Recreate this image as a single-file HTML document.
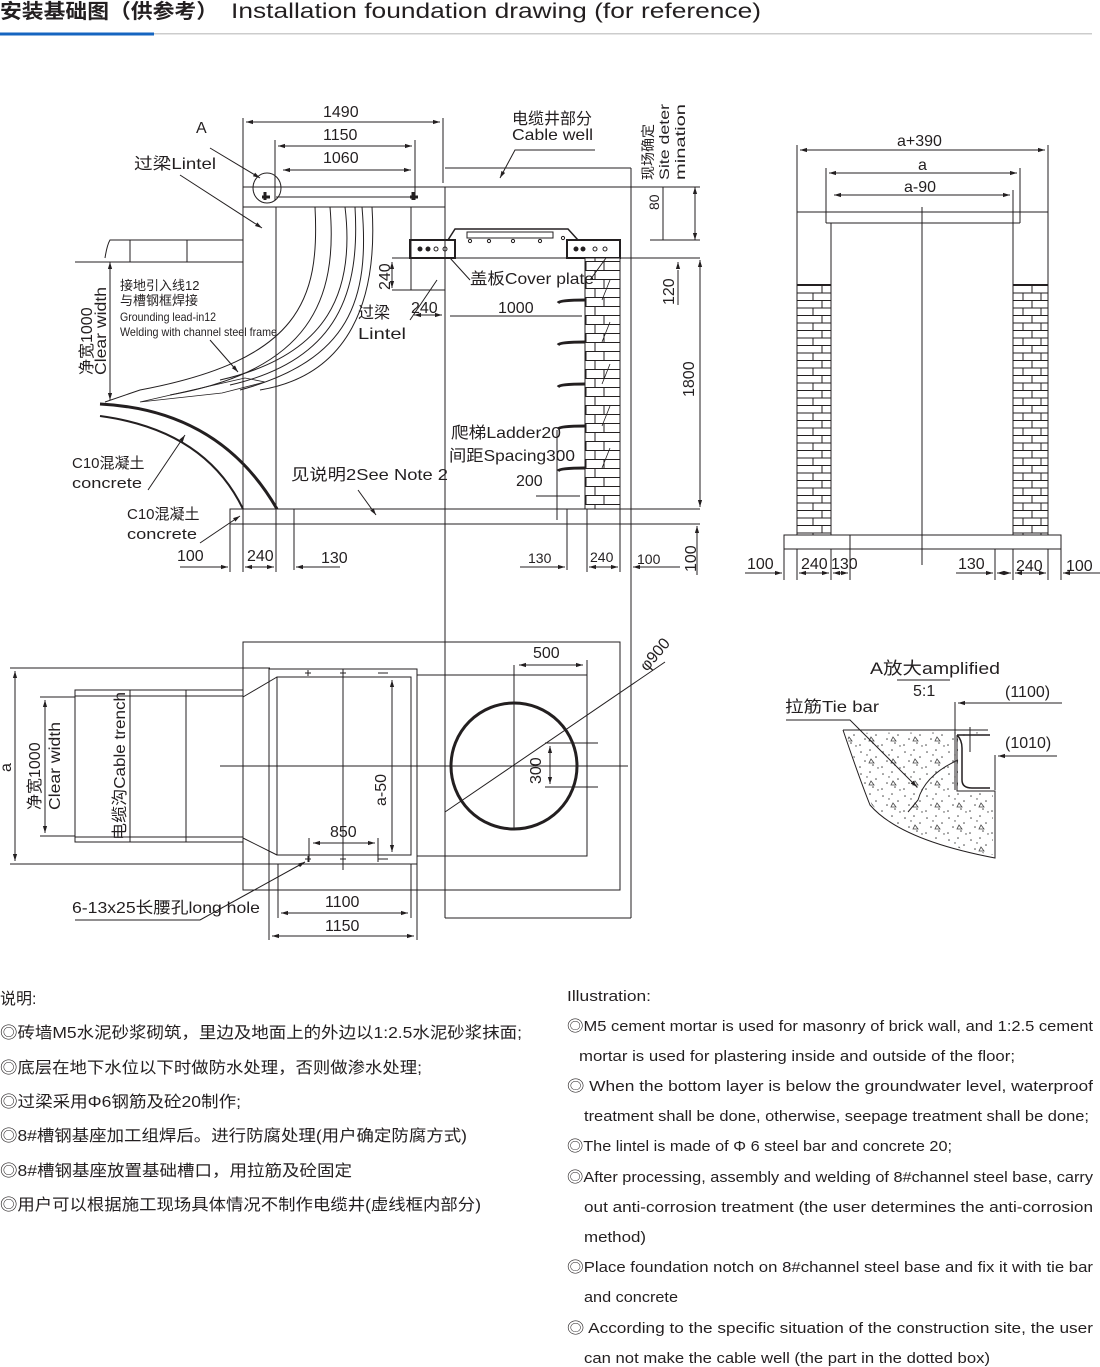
<!DOCTYPE html>
<html><head><meta charset="utf-8"><style>
html,body{margin:0;padding:0;background:#fff;}
svg{display:block;}
text{font-family:"Liberation Sans","Noto Sans CJK SC",sans-serif;fill:#231f20;}
</style></head><body>
<svg width="1100" height="1367" viewBox="0 0 1100 1367" xmlns="http://www.w3.org/2000/svg">
<defs>
<marker id="a" viewBox="0 0 10 10" refX="10" refY="5" markerWidth="7" markerHeight="7" orient="auto-start-reverse"><path d="M0,2 L10,5 L0,8z" fill="#231f20"/></marker>
<pattern id="brk" width="34" height="18" patternUnits="userSpaceOnUse">
<rect width="34" height="18" fill="#fff"/>
<path d="M0,0.5H34M0,9.5H34M17,0V9M8,9V18M26,9V18" stroke="#231f20" stroke-width="1" fill="none"/>
</pattern>
<pattern id="brk2" width="35" height="15" patternUnits="userSpaceOnUse">
<rect width="35" height="15" fill="#fff"/>
<path d="M0,0.5H35M0,8H35M17,0V7.5M8,7.5V15M26,7.5V15" stroke="#231f20" stroke-width="1" fill="none"/>
</pattern>
<pattern id="conc" width="22" height="22" patternUnits="userSpaceOnUse">
<rect width="22" height="22" fill="#fff"/>
<g fill="#444"><circle cx="3" cy="4" r=".8"/><circle cx="12" cy="2" r=".8"/><circle cx="18" cy="9" r=".8"/><circle cx="7" cy="13" r=".8"/><circle cx="15" cy="17" r=".8"/><circle cx="2" cy="19" r=".8"/><circle cx="9" cy="7" r=".7"/><circle cx="20" cy="20" r=".7"/></g>
<path d="M13,11l3,4h-5z" fill="none" stroke="#444" stroke-width=".8"/>
</pattern>
</defs>

<!-- Header -->
<text x="0" y="18" font-size="20" font-weight="bold" fill="#333" textLength="218" lengthAdjust="spacingAndGlyphs">安装基础图（供参考）</text>
<text x="231" y="18" font-size="21" fill="#444" textLength="530" lengthAdjust="spacingAndGlyphs">Installation foundation drawing (for reference)</text>
<rect x="0" y="33" width="1092" height="1.5" fill="#ccc"/>
<rect x="0" y="32.5" width="154" height="3" fill="#1565c0"/>

<g stroke="#231f20" fill="none" stroke-width="1">
<!-- ===== Section view ===== -->
<line x1="243" y1="118" x2="243" y2="509"/>
<line x1="443" y1="118" x2="443" y2="183"/>
<line x1="246" y1="122" x2="440" y2="122" marker-start="url(#a)" marker-end="url(#a)"/>
<line x1="275" y1="140" x2="275" y2="200"/><line x1="415" y1="140" x2="415" y2="200"/>
<line x1="278" y1="146" x2="412" y2="146" marker-start="url(#a)" marker-end="url(#a)"/>
<line x1="283" y1="170" x2="411" y2="170" marker-start="url(#a)" marker-end="url(#a)"/>
<rect x="243" y="187" width="202" height="20"/>
<line x1="276" y1="197" x2="411" y2="197"/>
<line x1="445" y1="187" x2="700" y2="187"/>
<path d="M265,192v8M262,197h8M413,192v8M410,197h8" stroke-width="3"/>
<ellipse cx="267" cy="188" rx="14" ry="15"/>
<line x1="276" y1="207" x2="276" y2="509"/>
<line x1="411" y1="207" x2="411" y2="290"/>
<line x1="445" y1="207" x2="445" y2="918"/>
<line x1="392" y1="290" x2="445" y2="290"/>
<line x1="445" y1="168" x2="631" y2="168"/>
<line x1="631" y1="168" x2="631" y2="918"/>
<path d="M105,258 Q107,245 110,240 H243 M75,262 H243 M130,240 V262 M187,240 V262"/>
<rect x="410" y="240" width="45" height="18" stroke-width="2"/>
<rect x="567" y="240" width="53" height="18" stroke-width="2"/>
<path d="M448,240 L455,229 H568 L578,240" stroke-width="1.5"/>
<rect x="467" y="232" width="86" height="6"/>
<line x1="392" y1="258" x2="700" y2="258"/>
<circle cx="420" cy="249" r="2" fill="#231f20"/><circle cx="428" cy="249" r="2" fill="#231f20"/><circle cx="436" cy="249" r="2"/><circle cx="445" cy="249" r="2"/>
<circle cx="576" cy="249" r="2" fill="#231f20"/><circle cx="583" cy="249" r="2" fill="#231f20"/><circle cx="595" cy="249" r="2"/><circle cx="605" cy="249" r="2"/>
<circle cx="470" cy="241" r="1.6"/><circle cx="489" cy="241" r="1.6"/><circle cx="513" cy="241" r="1.6"/><circle cx="540" cy="241" r="1.6"/><circle cx="563" cy="238" r="1.6"/>
<rect x="585" y="258" width="35" height="251" fill="url(#brk)"/>
<g stroke-width="3"><path d="M558,303 Q560,300 585,300"/><path d="M558,345 Q560,342 585,342"/><path d="M558,387 Q560,384 585,384"/><path d="M558,429 Q560,426 585,426"/><path d="M558,471 Q560,468 585,468"/></g>
<g stroke-width=".8"><path d="M602,300 L610,280 M602,342 L610,322 M602,384 L610,364 M602,426 L610,406 M602,468 L610,448"/></g>
<rect x="230" y="509" width="401" height="15"/>
<line x1="631" y1="509" x2="700" y2="509"/><line x1="631" y1="524" x2="700" y2="524"/>
<line x1="294" y1="509" x2="294" y2="570"/><line x1="567" y1="509" x2="567" y2="570"/>
<path d="M230,524V572M243,509V572M276,509V572M587,509V572M620,509V572M631,524V572"/>
<line x1="180" y1="567" x2="228" y2="567" marker-end="url(#a)"/>
<line x1="245" y1="567" x2="274" y2="567" marker-start="url(#a)" marker-end="url(#a)"/>
<line x1="296" y1="567" x2="340" y2="567" marker-start="url(#a)"/>
<line x1="520" y1="567" x2="565" y2="567" marker-end="url(#a)"/>
<line x1="589" y1="567" x2="618" y2="567" marker-start="url(#a)" marker-end="url(#a)"/>
<line x1="633" y1="567" x2="680" y2="567" marker-start="url(#a)"/>
<line x1="697" y1="526" x2="697" y2="575" marker-start="url(#a)"/>
<line x1="695" y1="187" x2="695" y2="240" marker-start="url(#a)" marker-end="url(#a)"/>
<line x1="663" y1="187" x2="663" y2="240"/>
<line x1="650" y1="240" x2="700" y2="240"/>
<line x1="678" y1="270" x2="678" y2="305"/><line x1="678" y1="262" x2="678" y2="265" marker-start="url(#a)"/>
<line x1="700" y1="260" x2="700" y2="507" marker-start="url(#a)" marker-end="url(#a)"/>
<line x1="392" y1="262" x2="392" y2="288" marker-start="url(#a)" marker-end="url(#a)"/>
<line x1="414" y1="315" x2="442" y2="315" marker-start="url(#a)" marker-end="url(#a)"/>
<line x1="450" y1="316" x2="582" y2="316"/>
<line x1="536" y1="496" x2="580" y2="496"/><line x1="557" y1="430" x2="557" y2="520"/>
<path d="M315,207 C320,300 300,360 140,390 L105,402"/>
<path d="M330,207 C338,300 310,370 170,395"/>
<path d="M345,207 C355,290 330,355 220,380"/>
<path d="M355,207 C360,290 340,360 230,385"/>
<path d="M362,207 C370,300 350,360 240,390"/>
<path d="M372,207 C378,300 350,375 260,390"/>
<path d="M140,402 L245,378 L265,382 L222,393Z" stroke-width=".8"/>
<path d="M100,404 Q220,410 277,509" stroke-width="3"/>
<path d="M100,416 Q205,430 243,509" stroke-width="2"/>
<line x1="110" y1="262" x2="110" y2="400" marker-start="url(#a)" marker-end="url(#a)"/>
<path d="M210,148 L260,178" marker-end="url(#a)"/>
<path d="M180,175 L262,228" marker-end="url(#a)"/>
<path d="M210,340 L238,372" marker-end="url(#a)"/>
<path d="M148,490 L185,435" marker-end="url(#a)"/>
<path d="M200,543 L240,516" marker-end="url(#a)"/>
<path d="M358,490 L376,515" marker-end="url(#a)"/>
<path d="M595,150 H515 L500,178" marker-end="url(#a)"/>
<path d="M410,320 L437,280"/>
<path d="M470,280 L450,258"/><path d="M590,280 L606,258"/>

<!-- ===== Plan view ===== -->
<rect x="243" y="642" width="377" height="248"/>
<rect x="269" y="669" width="148" height="195"/>
<rect x="277" y="677" width="134" height="178"/>
<rect x="75" y="690" width="168" height="152"/>
<line x1="75" y1="696" x2="243" y2="696"/><line x1="75" y1="837" x2="243" y2="837"/>
<line x1="130" y1="690" x2="130" y2="842"/><line x1="186" y1="690" x2="186" y2="842"/>
<path d="M243,697 L277,677 M243,838 L277,855"/>
<line x1="10" y1="668" x2="270" y2="668"/><line x1="10" y1="864" x2="270" y2="864"/>
<line x1="15" y1="671" x2="15" y2="861" marker-start="url(#a)" marker-end="url(#a)"/>
<line x1="40" y1="697" x2="75" y2="697"/><line x1="40" y1="836" x2="75" y2="836"/>
<line x1="45" y1="700" x2="45" y2="833" marker-start="url(#a)" marker-end="url(#a)"/>
<rect x="417" y="675" width="170" height="181"/>
<circle cx="514" cy="766" r="63" stroke-width="3"/>
<line x1="220" y1="766" x2="628" y2="766"/>
<line x1="514" y1="665" x2="514" y2="830"/>
<line x1="343" y1="669" x2="343" y2="870"/>
<line x1="519" y1="665" x2="583" y2="665" marker-start="url(#a)" marker-end="url(#a)"/>
<line x1="587" y1="660" x2="587" y2="675"/>
<line x1="445" y1="812" x2="665" y2="662"/>
<line x1="545" y1="743" x2="598" y2="743"/><line x1="545" y1="787" x2="598" y2="787"/>
<line x1="550" y1="746" x2="550" y2="784" marker-start="url(#a)" marker-end="url(#a)"/>
<line x1="392" y1="680" x2="392" y2="852" marker-start="url(#a)" marker-end="url(#a)"/>
<line x1="380" y1="677" x2="396" y2="677"/><line x1="380" y1="855" x2="396" y2="855"/>
<line x1="313" y1="843" x2="375" y2="843" marker-start="url(#a)" marker-end="url(#a)"/>
<line x1="309" y1="838" x2="309" y2="862"/><line x1="378" y1="838" x2="378" y2="862"/>
<path d="M305,673h6M308,670v6M340,673h6M343,670v6M378,673h10M305,859h6M308,856v6M340,859h6M343,856v6M378,859h10"/>
<line x1="278" y1="864" x2="278" y2="918"/><line x1="411" y1="864" x2="411" y2="918"/>
<line x1="269" y1="864" x2="269" y2="940"/><line x1="417" y1="864" x2="417" y2="940"/>
<line x1="281" y1="913" x2="408" y2="913" marker-start="url(#a)" marker-end="url(#a)"/>
<line x1="272" y1="936" x2="414" y2="936" marker-start="url(#a)" marker-end="url(#a)"/>
<line x1="445" y1="918" x2="631" y2="918"/>
<path d="M75,920 H200 L305,862" marker-end="url(#a)"/>

<!-- ===== Right elevation ===== -->
<line x1="797" y1="145" x2="797" y2="212"/><line x1="1048" y1="145" x2="1048" y2="212"/>
<line x1="800" y1="150" x2="1045" y2="150" marker-start="url(#a)" marker-end="url(#a)"/>
<line x1="826" y1="168" x2="826" y2="223"/><line x1="1020" y1="168" x2="1020" y2="223"/>
<line x1="829" y1="173" x2="1017" y2="173" marker-start="url(#a)" marker-end="url(#a)"/>
<line x1="1013" y1="190" x2="1013" y2="223"/>
<line x1="834" y1="195" x2="1010" y2="195" marker-start="url(#a)" marker-end="url(#a)"/>
<line x1="797" y1="212" x2="1048" y2="212"/>
<line x1="826" y1="223" x2="1020" y2="223"/>
<line x1="797" y1="212" x2="797" y2="535"/><line x1="831" y1="223" x2="831" y2="535"/>
<line x1="1013" y1="223" x2="1013" y2="535"/><line x1="1048" y1="212" x2="1048" y2="535"/>
<rect x="797" y="285" width="34" height="250" fill="url(#brk2)"/>
<rect x="1013" y="285" width="35" height="250" fill="url(#brk2)"/>
<line x1="797" y1="285" x2="831" y2="285" stroke-width="2"/><line x1="1013" y1="285" x2="1048" y2="285" stroke-width="2"/>
<line x1="922" y1="207" x2="922" y2="565"/>
<rect x="784" y="535" width="277" height="14"/>
<line x1="850" y1="535" x2="850" y2="580"/>
<path d="M784,549V580M797,549V580M831,549V580M995,549V580M1013,549V580M1048,549V580M1061,549V580"/>
<line x1="745" y1="573" x2="782" y2="573" marker-end="url(#a)"/>
<line x1="799" y1="573" x2="829" y2="573" marker-start="url(#a)" marker-end="url(#a)"/>
<line x1="833" y1="573" x2="848" y2="573" marker-start="url(#a)" marker-end="url(#a)"/>
<line x1="956" y1="573" x2="993" y2="573" marker-end="url(#a)"/>
<line x1="997" y1="573" x2="1011" y2="573" marker-start="url(#a)" marker-end="url(#a)"/>
<line x1="1015" y1="573" x2="1046" y2="573" marker-start="url(#a)" marker-end="url(#a)"/>
<line x1="1063" y1="573" x2="1100" y2="573" marker-start="url(#a)"/>

<!-- ===== Detail A ===== -->
<line x1="897" y1="680" x2="950" y2="680"/>
<path d="M846,733 Q860,780 872,805 Q905,840 993,855 V792 H958 V737 L985,732 Z" fill="url(#conc)" stroke="none"/>
<path d="M843,730 Q860,780 870,805 Q900,840 995,858 V791 H957 V735"/>
<path d="M843,730 H988"/>
<path d="M957,735 H990 M957,735 Q962,740 962,748 V780 Q962,788 972,788 H990" stroke-width="1.5"/>
<line x1="970" y1="727" x2="970" y2="752"/>
<line x1="955" y1="702" x2="955" y2="790"/>
<line x1="1062" y1="703" x2="958" y2="703" marker-end="url(#a)"/>
<line x1="995" y1="755" x2="995" y2="790"/>
<line x1="1057" y1="756" x2="998" y2="756" marker-end="url(#a)"/>
<path d="M786,720 H850 L917,787" marker-end="url(#a)"/>
<path d="M958,760 Q925,775 918,800 L908,812"/>
</g>

<!-- ===== Labels ===== -->
<g font-size="16">
<text x="323" y="117">1490</text>
<text x="323" y="140">1150</text>
<text x="323" y="163">1060</text>
<text x="196" y="133">A</text>
<text x="134" y="169" textLength="82" lengthAdjust="spacingAndGlyphs">过梁Lintel</text>
<text x="512" y="124">电缆井部分</text>
<text x="512" y="140" textLength="81" lengthAdjust="spacingAndGlyphs">Cable well</text>
<text x="498" y="313">1000</text>
<text x="411" y="313">240</text>
<text x="358" y="318">过梁</text>
<text x="358" y="339" textLength="48" lengthAdjust="spacingAndGlyphs">Lintel</text>
<text x="470" y="284" textLength="124" lengthAdjust="spacingAndGlyphs">盖板Cover plate</text>
<text x="451" y="438" textLength="110" lengthAdjust="spacingAndGlyphs">爬梯Ladder20</text>
<text x="449" y="461" textLength="126" lengthAdjust="spacingAndGlyphs">间距Spacing300</text>
<text x="516" y="486">200</text>
<text x="291" y="480" textLength="157" lengthAdjust="spacingAndGlyphs">见说明2See Note 2</text>
<text x="72" y="468" font-size="15">C10混凝土</text>
<text x="72" y="488" font-size="15" textLength="70" lengthAdjust="spacingAndGlyphs">concrete</text>
<text x="127" y="519" font-size="15">C10混凝土</text>
<text x="127" y="539" font-size="15" textLength="70" lengthAdjust="spacingAndGlyphs">concrete</text>
<text x="177" y="561">100</text>
<text x="247" y="561">240</text>
<text x="321" y="563">130</text>
<text x="528" y="563" font-size="14">130</text>
<text x="590" y="562" font-size="14">240</text>
<text x="637" y="564" font-size="14">100</text>
<text x="120" y="290" font-size="13">接地引入线12</text>
<text x="120" y="305" font-size="13">与槽钢框焊接</text>
<text x="120" y="321" font-size="12" textLength="96" lengthAdjust="spacingAndGlyphs">Grounding lead-in12</text>
<text x="120" y="336" font-size="12" textLength="157" lengthAdjust="spacingAndGlyphs">Welding with channel steel frame</text>
<text transform="translate(92,375) rotate(-90)">净宽1000</text>
<text transform="translate(106,375) rotate(-90)" textLength="88" lengthAdjust="spacingAndGlyphs">Clear width</text>
<text transform="translate(390,290) rotate(-90)">240</text>
<text transform="translate(659,210) rotate(-90)" font-size="14">80</text>
<text transform="translate(674,305) rotate(-90)">120</text>
<text transform="translate(694,397) rotate(-90)">1800</text>
<text transform="translate(696,572) rotate(-90)">100</text>
<text transform="translate(653,180) rotate(-90)" font-size="14">现场确定</text>
<text transform="translate(669,180) rotate(-90)" font-size="14" textLength="76" lengthAdjust="spacingAndGlyphs">Site deter</text>
<text transform="translate(685,180) rotate(-90)" font-size="14" textLength="76" lengthAdjust="spacingAndGlyphs">mination</text>

<text x="533" y="658">500</text>
<text transform="translate(647,672) rotate(-50)">φ900</text>
<text transform="translate(541,784) rotate(-90)">300</text>
<text transform="translate(386,806) rotate(-90)">a-50</text>
<text x="330" y="837">850</text>
<text x="325" y="907">1100</text>
<text x="325" y="931">1150</text>
<text x="72" y="913" textLength="188" lengthAdjust="spacingAndGlyphs">6-13x25长腰孔long hole</text>
<text transform="translate(11,772) rotate(-90)">a</text>
<text transform="translate(40,810) rotate(-90)">净宽1000</text>
<text transform="translate(60,810) rotate(-90)" textLength="88" lengthAdjust="spacingAndGlyphs">Clear width</text>
<text transform="translate(125,840) rotate(-90)" textLength="148" lengthAdjust="spacingAndGlyphs">电缆沟Cable trench</text>

<text x="897" y="146">a+390</text>
<text x="918" y="170">a</text>
<text x="904" y="192">a-90</text>
<text x="747" y="569">100</text>
<text x="801" y="569">240</text>
<text x="831" y="569">130</text>
<text x="958" y="569">130</text>
<text x="1016" y="571">240</text>
<text x="1066" y="571">100</text>

<text x="870" y="674" font-size="17" textLength="130" lengthAdjust="spacingAndGlyphs">A放大amplified</text>
<text x="913" y="696">5:1</text>
<text x="1005" y="697" font-size="16">(1100)</text>
<text x="1005" y="748" font-size="16">(1010)</text>
<text x="785" y="712" font-size="16" textLength="94" lengthAdjust="spacingAndGlyphs">拉筋Tie bar</text>
</g>

<!-- ===== Notes ===== -->
<g font-size="16" fill="#333">
<text x="0" y="1004">说明:</text>
<text x="0" y="1038" textLength="522" lengthAdjust="spacingAndGlyphs">◎砖墙M5水泥砂浆砌筑，里边及地面上的外边以1:2.5水泥砂浆抹面;</text>
<text x="0" y="1073" textLength="422" lengthAdjust="spacingAndGlyphs">◎底层在地下水位以下时做防水处理，否则做渗水处理;</text>
<text x="0" y="1107" textLength="241" lengthAdjust="spacingAndGlyphs">◎过梁采用Φ6钢筋及砼20制作;</text>
<text x="0" y="1141" textLength="467" lengthAdjust="spacingAndGlyphs">◎8#槽钢基座加工组焊后。进行防腐处理(用户确定防腐方式)</text>
<text x="0" y="1176" textLength="352" lengthAdjust="spacingAndGlyphs">◎8#槽钢基座放置基础槽口，用拉筋及砼固定</text>
<text x="0" y="1210" textLength="481" lengthAdjust="spacingAndGlyphs">◎用户可以根据施工现场具体情况不制作电缆井(虚线框内部分)</text>
</g>
<g font-size="15" fill="#333">
<text x="567" y="1001" textLength="84" lengthAdjust="spacingAndGlyphs">Illustration:</text>
<text x="567" y="1031" textLength="526" lengthAdjust="spacingAndGlyphs">◎M5 cement mortar is used for masonry of brick wall, and 1:2.5 cement</text>
<text x="579" y="1061" textLength="436" lengthAdjust="spacingAndGlyphs">mortar is used for plastering inside and outside of the floor;</text>
<text x="567" y="1091" textLength="526" lengthAdjust="spacingAndGlyphs">◎ When the bottom layer is below the groundwater level, waterproof</text>
<text x="584" y="1121" textLength="505" lengthAdjust="spacingAndGlyphs">treatment shall be done, otherwise, seepage treatment shall be done;</text>
<text x="567" y="1151" textLength="385" lengthAdjust="spacingAndGlyphs">◎The lintel is made of Φ 6 steel bar and concrete 20;</text>
<text x="567" y="1182" textLength="526" lengthAdjust="spacingAndGlyphs">◎After processing, assembly and welding of 8#channel steel base, carry</text>
<text x="584" y="1212" textLength="509" lengthAdjust="spacingAndGlyphs">out anti-corrosion treatment (the user determines the anti-corrosion</text>
<text x="584" y="1242" textLength="62" lengthAdjust="spacingAndGlyphs">method)</text>
<text x="567" y="1272" textLength="526" lengthAdjust="spacingAndGlyphs">◎Place foundation notch on 8#channel steel base and fix it with tie bar</text>
<text x="584" y="1302" textLength="94" lengthAdjust="spacingAndGlyphs">and concrete</text>
<text x="567" y="1333" textLength="526" lengthAdjust="spacingAndGlyphs">◎ According to the specific situation of the construction site, the user</text>
<text x="584" y="1363" textLength="406" lengthAdjust="spacingAndGlyphs">can not make the cable well (the part in the dotted box)</text>
</g>
</svg>
</body></html>
